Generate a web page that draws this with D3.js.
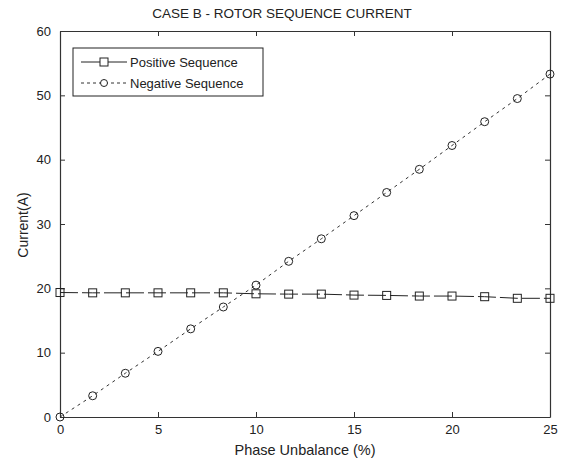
<!DOCTYPE html>
<html>
<head>
<meta charset="utf-8">
<script src="https://cdn.jsdelivr.net/npm/d3@7"></script>
<style>
  body { margin: 0; background: #fff; }
  text { font-family: "Liberation Sans", Arial, sans-serif; fill: #222; }
</style>
</head>
<body>
<div id="chart"></div>
<script>
// phase unbalance (%) - 16 points from 0 to 25
var unbalance = [0, 1.667, 3.333, 5, 6.667, 8.333, 10, 11.667, 13.333, 15, 16.667, 18.333, 20, 21.667, 23.333, 25];
var positiveSeq = [19.35, 19.3, 19.3, 19.3, 19.3, 19.3, 19.15, 19.1, 19.1, 18.95, 18.9, 18.8, 18.8, 18.7, 18.45, 18.45];
var negativeSeq = [0, 3.3, 6.8, 10.2, 13.7, 17.1, 20.5, 24.2, 27.7, 31.3, 34.9, 38.5, 42.2, 45.9, 49.5, 53.3];
var xTicks = [0, 5, 10, 15, 20, 25];
var yTicks = [0, 10, 20, 30, 40, 50, 60];

var margin = {top: 31, right: 12, bottom: 46, left: 60};
var width = 562 - margin.left - margin.right;
var height = 463 - margin.top - margin.bottom;

var svg = d3.select("#chart")
  .append("svg")
    .attr("width", 562)
    .attr("height", 463)
  .append("g")
    .attr("transform", "translate(" + margin.left + "," + margin.top + ")");

var x = d3.scaleLinear().domain([0, 25]).range([0, width]);
var y = d3.scaleLinear().domain([0, 60]).range([height, 0]);

// axes, MATLAB style: ticks inside on all four sides
function styleAxis(g) {
  g.select(".domain").attr("stroke", "#333");
  g.selectAll(".tick line").attr("stroke", "#333");
  g.selectAll(".tick text").style("font-size", "13px");
}

svg.append("g")
  .attr("transform", "translate(0," + height + ")")
  .call(d3.axisBottom(x).tickValues(xTicks).tickSizeInner(-5).tickSizeOuter(0).tickPadding(8))
  .call(styleAxis);
svg.append("g")
  .call(d3.axisTop(x).tickValues(xTicks).tickSizeInner(-5).tickSizeOuter(0).tickFormat(""))
  .call(styleAxis);
svg.append("g")
  .call(d3.axisLeft(y).tickValues(yTicks).tickSizeInner(-5).tickSizeOuter(0).tickPadding(9))
  .call(styleAxis);
svg.append("g")
  .attr("transform", "translate(" + width + ",0)")
  .call(d3.axisRight(y).tickValues(yTicks).tickSizeInner(-5).tickSizeOuter(0).tickFormat(""))
  .call(styleAxis);

svg.selectAll(".domain").attr("stroke-width", 1.2);

// titles
svg.append("text")
  .attr("x", width / 2 - 23)
  .attr("y", -13)
  .style("text-anchor", "middle")
  .style("font-size", "13.5px")
  .text("CASE B - ROTOR SEQUENCE CURRENT");

svg.append("text")
  .attr("x", width / 2)
  .attr("y", height + 38)
  .style("text-anchor", "middle")
  .style("font-size", "14.5px")
  .text("Phase Unbalance (%)");

svg.append("text")
  .attr("transform", "rotate(-90)")
  .attr("x", -height / 2 - 1)
  .attr("y", -32)
  .style("text-anchor", "middle")
  .style("font-size", "14px")
  .text("Current(A)");

var posData = unbalance.map(function(d, i) { return {x: d, y: positiveSeq[i]}; });
var negData = unbalance.map(function(d, i) { return {x: d, y: negativeSeq[i]}; });

var line = d3.line()
  .x(function(d) { return x(d.x); })
  .y(function(d) { return y(d.y); });

svg.append("path")
  .datum(posData)
  .attr("fill", "none")
  .attr("stroke", "#222")
  .attr("stroke-width", 1)
  .attr("stroke-dasharray", "18,4")
  .attr("d", line);

svg.append("path")
  .datum(negData)
  .attr("fill", "none")
  .attr("stroke", "#333")
  .attr("stroke-width", 1)
  .attr("stroke-dasharray", "3,4")
  .attr("d", line);

svg.append("g")
  .selectAll("rect")
  .data(posData)
  .enter()
  .append("rect")
    .attr("x", function(d) { return x(d.x) - 4; })
    .attr("y", function(d) { return y(d.y) - 4; })
    .attr("width", 8)
    .attr("height", 8)
    .attr("fill", "none")
    .attr("stroke", "#222");

svg.append("g")
  .selectAll("circle")
  .data(negData)
  .enter()
  .append("circle")
    .attr("cx", function(d) { return x(d.x); })
    .attr("cy", function(d) { return y(d.y); })
    .attr("r", 4)
    .attr("fill", "none")
    .attr("stroke", "#222");

// legend
var legend = svg.append("g").attr("transform", "translate(13,17)");
legend.append("rect")
  .attr("width", 190)
  .attr("height", 48)
  .attr("fill", "#fff")
  .attr("stroke", "#222");

legend.append("line")
  .attr("x1", 8).attr("x2", 54).attr("y1", 14).attr("y2", 14)
  .attr("stroke", "#222");
legend.append("rect")
  .attr("x", 27).attr("y", 10).attr("width", 8).attr("height", 8)
  .attr("fill", "#fff").attr("stroke", "#222");
legend.append("text")
  .attr("x", 57).attr("y", 19)
  .style("font-size", "13px")
  .text("Positive Sequence");

legend.append("line")
  .attr("x1", 8).attr("x2", 54).attr("y1", 35).attr("y2", 35)
  .attr("stroke", "#333").attr("stroke-dasharray", "3,3");
legend.append("circle")
  .attr("cx", 31).attr("cy", 35).attr("r", 3.5)
  .attr("fill", "#fff").attr("stroke", "#222");
legend.append("text")
  .attr("x", 57).attr("y", 40)
  .style("font-size", "13px")
  .text("Negative Sequence");
</script>
</body>
</html>
